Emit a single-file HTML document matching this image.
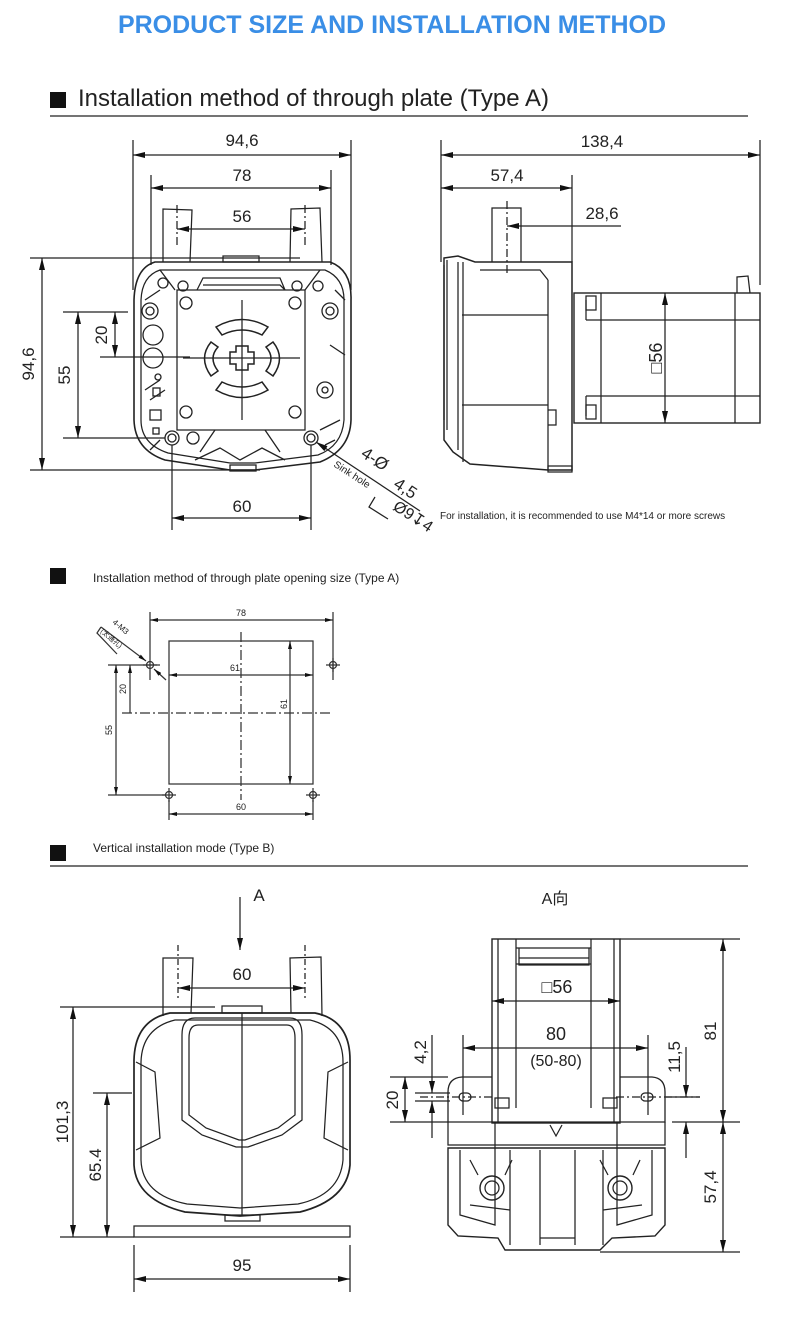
<!DOCTYPE html>
<html><head><meta charset="utf-8"><style>
html,body{margin:0;padding:0;background:#fff;}
svg{display:block;}
text{font-family:"Liberation Sans",Arial,sans-serif;fill:#222;}
g[stroke]{stroke-width:1.25;}
</style></head><body>
<svg width="790" height="1320" viewBox="0 0 790 1320" xmlns="http://www.w3.org/2000/svg">
<defs>
<marker id="a" viewBox="0 0 12 6" refX="12" refY="3" markerWidth="12" markerHeight="6" orient="auto-start-reverse" markerUnits="userSpaceOnUse"><path d="M0,0L12,3L0,6z" fill="#111"/></marker>
<marker id="s" viewBox="0 0 8 4" refX="8" refY="2" markerWidth="8" markerHeight="4" orient="auto-start-reverse" markerUnits="userSpaceOnUse"><path d="M0,0L8,2L0,4z" fill="#111"/></marker>
</defs>
<text x="392" y="33" text-anchor="middle" font-size="25" font-weight="bold" style="fill:#3a8ee6">PRODUCT SIZE AND INSTALLATION METHOD</text>

<!-- Section 1 -->
<rect x="50" y="92" width="16" height="16" fill="#111"/>
<text x="78" y="106" font-size="24">Installation method of through plate (Type A)</text>
<line x1="50" y1="116" x2="748" y2="116" stroke="#222" stroke-width="1.2"/>

<g stroke="#222" fill="none" stroke-width="1">
<line x1="133" y1="140" x2="133" y2="290"/><line x1="351" y1="140" x2="351" y2="290"/>
<line x1="133" y1="155" x2="351" y2="155" marker-start="url(#a)" marker-end="url(#a)"/>
<line x1="151" y1="175" x2="151" y2="265"/><line x1="331" y1="170" x2="331" y2="265"/>
<line x1="151" y1="188" x2="331" y2="188" marker-start="url(#a)" marker-end="url(#a)"/>
<line x1="177" y1="229" x2="305" y2="229" marker-start="url(#a)" marker-end="url(#a)"/>
<line x1="177" y1="205" x2="177" y2="245" stroke-dasharray="8 3 2 3"/><line x1="305" y1="205" x2="305" y2="245" stroke-dasharray="8 3 2 3"/>
<path d="M163,262 L163,209 L192,210 L190,262"/>
<path d="M290,262 L291,209 L320,208 L322,262"/>
<path d="M155,262 L330,262 Q352,270 351,300 L351,420 Q350,450 320,462 L255,470 L230,470 L165,460 Q135,450 134,420 L134,300 Q135,268 155,262Z" stroke-width="1.6"/>
<path d="M160,270 L325,270 Q344,278 344,300 L344,420 Q342,446 318,455 L255,463 L230,463 L168,453 Q141,444 141,420 L141,300 Q142,276 160,270Z"/>
<rect x="223" y="256" width="36" height="6"/>
<rect x="177" y="290" width="128" height="140"/>
<path d="M203,285 L280,285 L285,290 M197,290 L203,278 L280,278 L285,290"/>
<path d="M216,327 Q242,312 268,327 L262,335 Q242,325 222,335Z M216,390 Q242,405 268,390 L262,382 Q242,392 222,382Z M211,342 Q198,358 211,376 L218,371 Q208,358 218,347Z M273,342 Q286,358 273,376 L266,371 Q276,358 266,347Z" stroke-width="1.5"/>
<path d="M236,346 L248,346 L248,352 L254,352 L254,364 L248,364 L248,370 L236,370 L236,364 L230,364 L230,352 L236,352Z" stroke-width="1.5"/>
<line x1="242" y1="300" x2="242" y2="420"/><line x1="183" y1="358" x2="300" y2="358"/>
<g stroke-width="1.3">
<circle cx="163" cy="283" r="5"/><circle cx="183" cy="286" r="5"/><circle cx="297" cy="286" r="5"/><circle cx="318" cy="286" r="5"/>
<circle cx="150" cy="311" r="8"/><circle cx="150" cy="311" r="4"/><circle cx="330" cy="311" r="8"/><circle cx="330" cy="311" r="4"/>
<circle cx="186" cy="303" r="6"/><circle cx="295" cy="303" r="6"/><circle cx="186" cy="412" r="6"/><circle cx="295" cy="412" r="6"/>
<circle cx="172" cy="438" r="7"/><circle cx="172" cy="438" r="4"/><circle cx="311" cy="438" r="7"/><circle cx="311" cy="438" r="4"/>
<circle cx="193" cy="438" r="6"/><circle cx="325" cy="390" r="8"/><circle cx="325" cy="390" r="3"/>
<circle cx="153" cy="335" r="10"/><circle cx="153" cy="358" r="10"/><circle cx="158" cy="377" r="3"/>
<rect x="153" y="388" width="7" height="8"/><rect x="150" y="410" width="11" height="10"/><rect x="153" y="428" width="6" height="6"/>
<path d="M195,460 L220,448 L240,460 L262,448 L285,460 M200,452 L215,430 M265,430 L280,452 M150,400 L165,390 M330,345 L345,355 M320,430 L340,420 M160,270 L175,290 M305,290 L320,270 M145,300 L160,290 M335,290 L345,300 M145,390 L160,380 M160,440 L150,450 M325,445 L335,440"/>
<rect x="230" y="465" width="26" height="6"/>
</g>
<line x1="30" y1="258" x2="300" y2="258"/><line x1="30" y1="470" x2="260" y2="470"/>
<line x1="42" y1="258" x2="42" y2="470" marker-start="url(#a)" marker-end="url(#a)"/>
<line x1="63" y1="312" x2="128" y2="312"/><line x1="63" y1="438" x2="165" y2="438"/>
<line x1="78" y1="312" x2="78" y2="438" marker-start="url(#a)" marker-end="url(#a)"/>
<line x1="100" y1="357" x2="190" y2="357"/>
<line x1="115" y1="312" x2="115" y2="357" marker-start="url(#a)" marker-end="url(#a)"/>
<line x1="172" y1="445" x2="172" y2="530"/><line x1="311" y1="445" x2="311" y2="530"/>
<line x1="172" y1="518" x2="311" y2="518" marker-start="url(#a)" marker-end="url(#a)"/>
<line x1="420" y1="511" x2="316" y2="442" marker-end="url(#a)"/>
<path d="M375,497 L369,507 L388,519"/>
</g>
<text x="242" y="146" text-anchor="middle" font-size="17">94,6</text>
<text x="242" y="181" text-anchor="middle" font-size="17">78</text>
<text x="242" y="222" text-anchor="middle" font-size="17">56</text>
<text x="242" y="512" text-anchor="middle" font-size="17">60</text>
<text transform="translate(70,375) rotate(-90)" text-anchor="middle" font-size="17">55</text>
<text transform="translate(107,335) rotate(-90)" text-anchor="middle" font-size="17">20</text>
<text transform="translate(34,364) rotate(-90)" text-anchor="middle" font-size="17">94,6</text>
<g transform="translate(360,456) rotate(33)"><text x="0" y="0" font-size="17">4-Ø</text><text x="44" y="8" font-size="17">4,5</text></g>
<text transform="translate(333,466) rotate(33)" font-size="10">Sink hole</text>
<text transform="translate(392,509) rotate(33)" font-size="16">Ø9↧4</text>

<g stroke="#222" fill="none" stroke-width="1">
<line x1="441" y1="140" x2="441" y2="262"/><line x1="760" y1="140" x2="760" y2="285"/>
<line x1="441" y1="155" x2="760" y2="155" marker-start="url(#a)" marker-end="url(#a)"/>
<line x1="572" y1="175" x2="572" y2="262"/>
<line x1="441" y1="188" x2="572" y2="188" marker-start="url(#a)" marker-end="url(#a)"/>
<line x1="507" y1="226" x2="572" y2="226" marker-start="url(#a)"/><line x1="572" y1="226" x2="621" y2="226"/>
<line x1="507" y1="201" x2="507" y2="275" stroke-dasharray="8 3 2 3"/>
<path d="M492,262 L492,208 L521,208 L521,262"/>
<path d="M444,258 L458,256 L475,262 L548,262 L572,262 L572,470 L548,470 L470,464 L453,452 L444,440 Z" stroke-width="1.5"/>
<path d="M458,262 L458,450 M463,262 L463,462 M548,280 L548,470 M462,315 L548,315 M462,405 L548,405 M444,265 L444,420 M447,260 L447,430"/>
<path d="M480,270 L540,270 L548,280 M548,410 L556,410 L556,425 L548,425"/>
<rect x="548" y="466" width="24" height="6"/>
<rect x="574" y="293" width="186" height="130" stroke-width="1.4"/>
<path d="M601,293 L601,423 M735,293 L735,423 M586,320 L760,320 M586,396 L760,396 M586,300 L586,320 M586,396 L586,416"/>
<rect x="586" y="296" width="10" height="14"/><rect x="586" y="405" width="10" height="14"/>
<path d="M737,293 L737,277 L748,276 L750,293"/>
<line x1="665" y1="293" x2="665" y2="423" marker-start="url(#a)" marker-end="url(#a)"/>
</g>
<text x="602" y="147" text-anchor="middle" font-size="17">138,4</text>
<text x="507" y="181" text-anchor="middle" font-size="17">57,4</text>
<text x="602" y="219" text-anchor="middle" font-size="17">28,6</text>
<text transform="translate(662,358) rotate(-90)" text-anchor="middle" font-size="18">□56</text>
<text x="440" y="519" font-size="10">For installation, it is recommended to use M4*14 or more screws</text>

<rect x="50" y="568" width="16" height="16" fill="#111"/>
<text x="93" y="582" font-size="12">Installation method of through plate opening size (Type A)</text>
<g stroke="#333" fill="none" stroke-width="0.8">
<rect x="169" y="641" width="144" height="143"/>
<line x1="241" y1="632" x2="241" y2="800" stroke-dasharray="10 3 2 3"/>
<line x1="122" y1="713" x2="330" y2="713" stroke-dasharray="10 3 2 3"/>
<line x1="150" y1="612" x2="150" y2="680"/><line x1="333" y1="612" x2="333" y2="680"/>
<line x1="150" y1="620" x2="333" y2="620" marker-start="url(#s)" marker-end="url(#s)"/>
<line x1="169" y1="675" x2="313" y2="675" marker-start="url(#s)" marker-end="url(#s)"/>
<line x1="290" y1="641" x2="290" y2="784" marker-start="url(#s)" marker-end="url(#s)"/>
<line x1="108" y1="665" x2="160" y2="665"/><line x1="108" y1="795" x2="165" y2="795"/>
<line x1="116" y1="665" x2="116" y2="795" marker-start="url(#s)" marker-end="url(#s)"/>
<line x1="130" y1="665" x2="130" y2="713" marker-start="url(#s)"/>
<line x1="169" y1="800" x2="169" y2="820"/><line x1="313" y1="800" x2="313" y2="820"/>
<line x1="169" y1="814" x2="313" y2="814" marker-start="url(#s)" marker-end="url(#s)"/>
<circle cx="150" cy="665" r="3.5"/><circle cx="333" cy="665" r="3.5"/><circle cx="169" cy="795" r="3.5"/><circle cx="313" cy="795" r="3.5"/>
<path d="M326,665h14M333,658v14M162,795h14M169,788v14M306,795h14M313,788v14M143,665h14"/>
<line x1="101" y1="627" x2="146" y2="661" marker-end="url(#s)"/><line x1="166" y1="680" x2="154" y2="669" marker-end="url(#s)"/>
<path d="M101,627 L97,633 L117,654"/>
</g>
<text x="241" y="616" text-anchor="middle" font-size="9">78</text>
<text x="235" y="671" text-anchor="middle" font-size="9">61</text>
<text transform="translate(287,704) rotate(-90)" text-anchor="middle" font-size="9">61</text>
<text transform="translate(112,730) rotate(-90)" text-anchor="middle" font-size="9">55</text>
<text transform="translate(126,689) rotate(-90)" text-anchor="middle" font-size="9">20</text>
<text x="241" y="810" text-anchor="middle" font-size="9">60</text>
<text transform="translate(112,623) rotate(40)" font-size="8">4-M3</text>
<text transform="translate(100,632) rotate(40)" font-size="7" style="font-family:'Liberation Sans','Noto Sans CJK SC',sans-serif">(太通孔)</text>

<rect x="50" y="845" width="16" height="16" fill="#111"/>
<text x="93" y="852" font-size="12">Vertical installation mode (Type B)</text>
<line x1="50" y1="866" x2="748" y2="866" stroke="#222" stroke-width="1.2"/>

<g stroke="#222" fill="none" stroke-width="1">
<line x1="240" y1="897" x2="240" y2="950" marker-end="url(#a)"/>
<path d="M163,1016 L163,958 L193,958 L191,1013"/>
<path d="M291,1013 L290,958 L321,957 L322,1016"/>
<line x1="178" y1="945" x2="178" y2="1000" stroke-dasharray="6 3 2 3"/><line x1="305" y1="945" x2="305" y2="1000" stroke-dasharray="6 3 2 3"/>
<line x1="178" y1="988" x2="305" y2="988" marker-start="url(#a)" marker-end="url(#a)"/>
<rect x="222" y="1006" width="40" height="7"/>
<path d="M170,1013 L315,1013 Q350,1020 350,1060 L350,1165 Q347,1200 300,1212 L240,1216 L185,1212 Q136,1200 134,1165 L134,1060 Q135,1020 170,1013Z" stroke-width="1.7"/>
<path d="M175,1020 L310,1020 Q343,1028 343,1062 L343,1160 Q340,1195 298,1204 L240,1208 L187,1204 Q142,1195 141,1160 L141,1062 Q142,1028 175,1020Z"/>
<path d="M195,1018 L290,1018 Q302,1018 302,1035 L302,1120 L282,1135 L248,1147 L236,1147 L202,1135 L182,1120 L182,1035 Q182,1018 195,1018Z"/>
<path d="M198,1025 L287,1025 Q295,1025 295,1038 L295,1115 L278,1128 L245,1140 L239,1140 L206,1128 L189,1115 L189,1038 Q189,1025 198,1025Z"/>
<path d="M136,1062 L155,1072 L160,1138 L136,1150 M348,1062 L328,1072 L324,1138 L348,1150"/>
<line x1="242" y1="1013" x2="242" y2="1216"/>
<rect x="225" y="1215" width="35" height="6"/>
<rect x="134" y="1226" width="216" height="11"/>
<line x1="60" y1="1007" x2="215" y2="1007"/><line x1="60" y1="1237" x2="134" y2="1237"/>
<line x1="73" y1="1007" x2="73" y2="1237" marker-start="url(#a)" marker-end="url(#a)"/>
<line x1="93" y1="1093" x2="132" y2="1093"/>
<line x1="107" y1="1093" x2="107" y2="1237" marker-start="url(#a)" marker-end="url(#a)"/>
<line x1="134" y1="1245" x2="134" y2="1292"/><line x1="350" y1="1245" x2="350" y2="1292"/>
<line x1="134" y1="1279" x2="350" y2="1279" marker-start="url(#a)" marker-end="url(#a)"/>
</g>
<text x="259" y="901" text-anchor="middle" font-size="17">A</text>
<text x="242" y="980" text-anchor="middle" font-size="17">60</text>
<text transform="translate(68,1122) rotate(-90)" text-anchor="middle" font-size="17">101,3</text>
<text transform="translate(101,1165) rotate(-90)" text-anchor="middle" font-size="17">65.4</text>
<text x="242" y="1271" text-anchor="middle" font-size="17">95</text>

<text x="555" y="904" text-anchor="middle" font-size="16" style="font-family:'Liberation Sans','Noto Sans CJK SC',sans-serif">A向</text>
<g stroke="#222" fill="none" stroke-width="1">
<rect x="492" y="939" width="128" height="184" stroke-width="1.4"/>
<path d="M516,939 L516,1108 M591,939 L591,1108 M498,939 L498,1123 M614,939 L614,1123 M516,948 L591,948 M519,958 L589,958 M519,948 L519,965 L589,965 L589,948 M516,964 L591,964"/>
<path d="M462,1077 L492,1077 M620,1077 L652,1077 Q665,1078 665,1092 L665,1122 L448,1122 L448,1092 Q448,1078 462,1077" stroke-width="1.3"/>
<rect x="459" y="1093" width="12" height="8" rx="4"/><rect x="641" y="1093" width="12" height="8" rx="4"/>
<line x1="420" y1="1097" x2="495" y2="1097" stroke-dasharray="8 3 2 3"/><line x1="616" y1="1097" x2="700" y2="1097" stroke-dasharray="8 3 2 3"/>
<rect x="495" y="1098" width="14" height="10"/><rect x="603" y="1098" width="14" height="10"/>
<path d="M448,1122 L448,1145 L665,1145 L665,1122 M495,1122 L495,1150 M617,1122 L617,1150"/>
<path d="M550,1125 L556,1136 L562,1125"/>
<path d="M448,1148 L448,1225 L458,1236 L498,1238 L505,1250 L600,1250 L612,1238 L655,1236 L665,1225 L665,1148 Z" stroke-width="1.4"/>
<path d="M460,1150 L460,1215 L495,1225 L495,1150 M617,1150 L617,1225 L652,1215 L652,1150 M510,1150 L510,1245 M603,1150 L603,1245 M540,1150 L540,1245 M575,1150 L575,1245 M540,1238 L575,1238"/>
<circle cx="492" cy="1188" r="12" stroke-width="1.4"/><circle cx="492" cy="1188" r="7"/>
<circle cx="620" cy="1188" r="12" stroke-width="1.4"/><circle cx="620" cy="1188" r="7"/>
<path d="M470,1160 L478,1175 M512,1160 L505,1175 M600,1160 L608,1175 M640,1160 L633,1175 M470,1205 L510,1210 M603,1210 L642,1205"/>
<line x1="492" y1="1001" x2="620" y2="1001" marker-start="url(#a)" marker-end="url(#a)"/>
<line x1="463" y1="1035" x2="463" y2="1115"/><line x1="648" y1="1035" x2="648" y2="1115"/>
<line x1="463" y1="1048" x2="648" y2="1048" marker-start="url(#a)" marker-end="url(#a)"/>
<line x1="620" y1="939" x2="740" y2="939"/><line x1="672" y1="1122" x2="740" y2="1122"/><line x1="600" y1="1252" x2="740" y2="1252"/>
<line x1="723" y1="939" x2="723" y2="1122" marker-start="url(#a)" marker-end="url(#a)"/>
<line x1="723" y1="1122" x2="723" y2="1252" marker-start="url(#a)" marker-end="url(#a)"/>
<line x1="666" y1="1097" x2="700" y2="1097"/>
<line x1="686" y1="1047" x2="686" y2="1097" marker-end="url(#a)"/><line x1="686" y1="1122" x2="686" y2="1158" marker-start="url(#a)"/>
<line x1="390" y1="1077" x2="448" y2="1077"/><line x1="390" y1="1122" x2="448" y2="1122"/>
<line x1="405" y1="1077" x2="405" y2="1122" marker-start="url(#a)" marker-end="url(#a)"/>
<line x1="415" y1="1093" x2="450" y2="1093"/><line x1="415" y1="1101" x2="450" y2="1101"/>
<line x1="432" y1="1035" x2="432" y2="1093" marker-end="url(#a)"/><line x1="432" y1="1101" x2="432" y2="1138" marker-start="url(#a)"/>
</g>
<text x="557" y="993" text-anchor="middle" font-size="18">□56</text>
<text x="556" y="1040" text-anchor="middle" font-size="18">80</text>
<text x="556" y="1066" text-anchor="middle" font-size="16">(50-80)</text>
<text transform="translate(716,1031) rotate(-90)" text-anchor="middle" font-size="17">81</text>
<text transform="translate(716,1187) rotate(-90)" text-anchor="middle" font-size="17">57,4</text>
<text transform="translate(680,1057) rotate(-90)" text-anchor="middle" font-size="17">11,5</text>
<text transform="translate(426,1052) rotate(-90)" text-anchor="middle" font-size="17">4,2</text>
<text transform="translate(398,1100) rotate(-90)" text-anchor="middle" font-size="17">20</text>
</svg>
</body></html>
